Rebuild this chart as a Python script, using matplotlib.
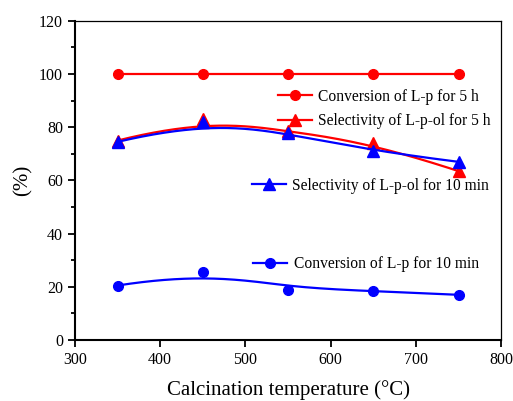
import numpy as np
import matplotlib.pyplot as plt
from matplotlib.ticker import MultipleLocator

plt.rcParams['font.family'] = ['Liberation Serif', 'DejaVu Serif']

temp = [350, 450, 550, 650, 750]
conv_5h = [100, 100, 100, 100, 100]
sel_5h = [75, 83, 78.5, 74, 63.5]
sel_10min = [74.5, 82, 78, 71, 67]
conv_10min = [20.5, 25.5, 19, 18.5, 17]


def bspline(x, y, k=3, n=200):
    # clamped B-spline with the data points as control points (like Origin's B-Spline connect)
    P = np.column_stack([x, y]).astype(float)
    m = len(P)
    knots = np.concatenate([np.zeros(k), np.linspace(0, 1, m - k + 1), np.ones(k)])
    ts = np.linspace(0, 1, n)
    out = []
    for t in ts:
        # basis functions by Cox-de Boor
        N = np.zeros(len(knots) - 1)
        for i in range(len(knots) - 1):
            if knots[i] <= t < knots[i + 1]:
                N[i] = 1.0
        if t >= 1.0:
            N[m - 1] = 1.0
        for d in range(1, k + 1):
            Nn = np.zeros(len(knots) - 1 - d)
            for i in range(len(Nn)):
                a = 0.0
                if knots[i + d] != knots[i]:
                    a = (t - knots[i]) / (knots[i + d] - knots[i]) * N[i]
                b = 0.0
                if knots[i + d + 1] != knots[i + 1]:
                    b = (knots[i + d + 1] - t) / (knots[i + d + 1] - knots[i + 1]) * N[i + 1]
                Nn[i] = a + b
            N = Nn
        out.append(N[:m] @ P)
    out = np.array(out)
    return out[:, 0], out[:, 1]


fig = plt.figure(figsize=(5.13, 4.01), dpi=100)
ax = fig.add_axes([0.146, 0.152, 0.831, 0.796])

lw = 1.6
h1, = ax.plot(temp, conv_5h, '-o', color='red', lw=lw, ms=7)

sx, sy = bspline(temp, sel_5h)
ax.plot(sx, sy, '-', color='red', lw=lw)
ax.plot(temp, sel_5h, '^', color='red', ms=8)
h2, = ax.plot([], [], '-^', color='red', lw=lw, ms=8)

sx, sy = bspline(temp, sel_10min)
ax.plot(sx, sy, '-', color='blue', lw=lw)
ax.plot(temp, sel_10min, '^', color='blue', ms=8)
h3, = ax.plot([], [], '-^', color='blue', lw=lw, ms=8)

sx, sy = bspline(temp, conv_10min)
ax.plot(sx, sy, '-', color='blue', lw=lw)
ax.plot(temp, conv_10min, 'o', color='blue', ms=7)
h4, = ax.plot([], [], '-o', color='blue', lw=lw, ms=7)

ax.set_xlim(300, 800)
ax.set_ylim(0, 120)
ax.xaxis.set_major_locator(MultipleLocator(100))
ax.yaxis.set_major_locator(MultipleLocator(20))
ax.yaxis.set_minor_locator(MultipleLocator(10))
ax.tick_params(axis='both', which='major', direction='out', length=5, width=1.3,
               labelsize=11.5, pad=3.5)
ax.tick_params(axis='y', which='minor', direction='out', length=3, width=1.3)
ax.spines['left'].set_linewidth(1.5)
ax.spines['bottom'].set_linewidth(1.5)
ax.spines['top'].set_linewidth(0.9)
ax.spines['right'].set_linewidth(0.9)

ax.set_xlabel('Calcination temperature (\u00b0C)', fontsize=15, labelpad=9)
ax.set_ylabel('(%)', fontsize=15, labelpad=5)

kw = dict(frameon=False, fontsize=11.2, handlelength=2.2, handletextpad=0.4,
          borderpad=0, borderaxespad=0, loc='center left')
leg1 = ax.legend([h1, h2], ['Conversion of L-p for 5 h', 'Selectivity of L-p-ol for 5 h'],
                 bbox_to_anchor=(0.476, 0.724), labelspacing=0.55, **kw)
ax.add_artist(leg1)
leg2 = ax.legend([h3], ['Selectivity of L-p-ol for 10 min'],
                 bbox_to_anchor=(0.415, 0.483), **kw)
ax.add_artist(leg2)
ax.legend([h4], ['Conversion of L-p for 10 min'],
          bbox_to_anchor=(0.418, 0.238), **kw)

fig.savefig('out.png', dpi=100)
